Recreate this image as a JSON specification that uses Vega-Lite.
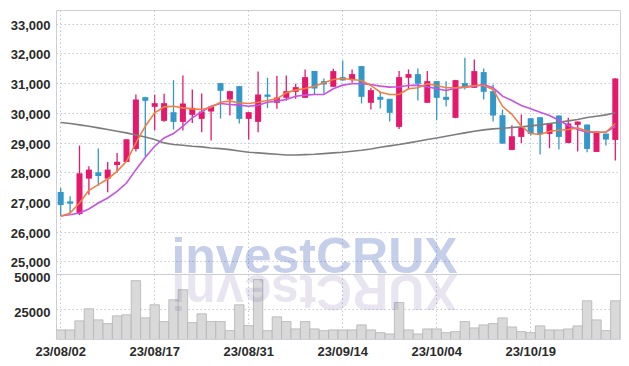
{
  "$schema": "https://vega.github.io/schema/vega-lite/v6.json",
  "padding": {"left": 5, "top": 9, "right": 10, "bottom": 0},
  "background": "white",
  "spacing": 0,
  "bounds": "flush",
  "config": {
    "view": {"stroke": "#cfd0d6", "strokeWidth": 1},
    "axis": {
      "labelFont": "Liberation Sans",
      "labelFontSize": 13,
      "labelFontWeight": "bold",
      "labelColor": "#2a2a2a",
      "gridColor": "#c3c7da",
      "gridDash": [1.5, 2.5],
      "gridWidth": 1,
      "ticks": false,
      "domain": false,
      "title": null,
      "labelOverlap": false
    }
  },
  "datasets": {
    "px": [
      {"d": "23/08/02", "o": 27335, "h": 27470, "l": 26549, "c": 26897, "v": 9827, "m5": 26515, "m20": 26537, "m120": 29673},
      {"d": "23/08/03", "o": 27020, "h": 27189, "l": 26627, "c": 26942, "v": 9827, "m5": 26627, "m20": 26571, "m120": 29640},
      {"d": "23/08/04", "o": 26594, "h": 28898, "l": 26560, "c": 27965, "v": 16330, "m5": 26964, "m20": 26627, "m120": 29595},
      {"d": "23/08/07", "o": 27785, "h": 28201, "l": 27245, "c": 28089, "v": 25000, "m5": 27392, "m20": 26762, "m120": 29550},
      {"d": "23/08/08", "o": 27998, "h": 28797, "l": 27549, "c": 27875, "v": 17050, "m5": 27583, "m20": 26964, "m120": 29494},
      {"d": "23/08/09", "o": 27785, "h": 28347, "l": 27324, "c": 28089, "v": 14380, "m5": 27774, "m20": 27133, "m120": 29437},
      {"d": "23/08/10", "o": 28246, "h": 28651, "l": 27998, "c": 28358, "v": 19940, "m5": 28032, "m20": 27358, "m120": 29381},
      {"d": "23/08/11", "o": 28347, "h": 29111, "l": 28340, "c": 29111, "v": 20665, "m5": 28370, "m20": 27639, "m120": 29325},
      {"d": "23/08/14", "o": 28785, "h": 30617, "l": 28700, "c": 30449, "v": 45230, "m5": 28988, "m20": 28088, "m120": 29257},
      {"d": "23/08/16", "o": 30528, "h": 30540, "l": 28538, "c": 30404, "v": 18500, "m5": 29550, "m20": 28504, "m120": 29190},
      {"d": "23/08/17", "o": 30202, "h": 30606, "l": 29415, "c": 30325, "v": 27890, "m5": 30000, "m20": 28875, "m120": 29100},
      {"d": "23/08/18", "o": 29730, "h": 30640, "l": 29700, "c": 30325, "v": 15820, "m5": 30202, "m20": 29156, "m120": 28988},
      {"d": "23/08/21", "o": 30022, "h": 31101, "l": 29437, "c": 29696, "v": 31500, "m5": 30224, "m20": 29302, "m120": 28932},
      {"d": "23/08/22", "o": 29696, "h": 31258, "l": 29404, "c": 30314, "v": 38730, "m5": 30168, "m20": 29550, "m120": 28910},
      {"d": "23/08/23", "o": 29932, "h": 30786, "l": 29662, "c": 30168, "v": 15100, "m5": 30134, "m20": 29831, "m120": 28875},
      {"d": "23/08/24", "o": 29797, "h": 30651, "l": 29347, "c": 30044, "v": 21390, "m5": 30112, "m20": 30033, "m120": 28853},
      {"d": "23/08/25", "o": 30044, "h": 30230, "l": 29066, "c": 30213, "v": 15820, "m5": 30190, "m20": 30224, "m120": 28819},
      {"d": "23/08/28", "o": 31000, "h": 31000, "l": 29808, "c": 30741, "v": 15820, "m5": 30359, "m20": 30314, "m120": 28797},
      {"d": "23/08/29", "o": 30449, "h": 30740, "l": 29909, "c": 30730, "v": 9320, "m5": 30393, "m20": 30280, "m120": 28763},
      {"d": "23/08/30", "o": 30898, "h": 30900, "l": 29640, "c": 29797, "v": 27890, "m5": 30337, "m20": 30258, "m120": 28718},
      {"d": "23/08/31", "o": 29797, "h": 30030, "l": 29100, "c": 30022, "v": 12930, "m5": 30314, "m20": 30224, "m120": 28673},
      {"d": "23/09/01", "o": 29696, "h": 31393, "l": 29347, "c": 30617, "v": 45950, "m5": 30359, "m20": 30258, "m120": 28651},
      {"d": "23/09/04", "o": 30617, "h": 31179, "l": 30157, "c": 30539, "v": 9320, "m5": 30415, "m20": 30359, "m120": 28628},
      {"d": "23/09/05", "o": 30337, "h": 31247, "l": 30134, "c": 30516, "v": 19220, "m5": 30471, "m20": 30393, "m120": 28606},
      {"d": "23/09/06", "o": 30505, "h": 31258, "l": 30415, "c": 30730, "v": 15820, "m5": 30674, "m20": 30449, "m120": 28583},
      {"d": "23/09/07", "o": 30707, "h": 30977, "l": 30471, "c": 30865, "v": 10550, "m5": 30764, "m20": 30561, "m120": 28583},
      {"d": "23/09/08", "o": 30505, "h": 31460, "l": 30500, "c": 31202, "v": 15820, "m5": 30820, "m20": 30595, "m120": 28594},
      {"d": "23/09/11", "o": 31404, "h": 31404, "l": 30617, "c": 30820, "v": 10550, "m5": 30898, "m20": 30617, "m120": 28606},
      {"d": "23/09/12", "o": 31067, "h": 31157, "l": 30651, "c": 30955, "v": 9320, "m5": 31011, "m20": 30617, "m120": 28628},
      {"d": "23/09/13", "o": 30876, "h": 31483, "l": 30870, "c": 31404, "v": 9827, "m5": 31123, "m20": 30809, "m120": 28651},
      {"d": "23/09/14", "o": 31202, "h": 31764, "l": 31080, "c": 31090, "v": 9827, "m5": 31157, "m20": 30932, "m120": 28673},
      {"d": "23/09/15", "o": 31101, "h": 31460, "l": 31011, "c": 31303, "v": 9827, "m5": 31123, "m20": 30977, "m120": 28707},
      {"d": "23/09/18", "o": 31573, "h": 31573, "l": 30314, "c": 30539, "v": 13420, "m5": 31090, "m20": 30977, "m120": 28740},
      {"d": "23/09/19", "o": 30337, "h": 30842, "l": 30112, "c": 30764, "v": 9827, "m5": 30921, "m20": 30955, "m120": 28785},
      {"d": "23/09/20", "o": 30539, "h": 30730, "l": 30145, "c": 30438, "v": 7876, "m5": 30696, "m20": 30898, "m120": 28842},
      {"d": "23/09/21", "o": 30471, "h": 30471, "l": 29707, "c": 29999, "v": 6916, "m5": 30617, "m20": 30865, "m120": 28887},
      {"d": "23/09/22", "o": 29527, "h": 31404, "l": 29460, "c": 31202, "v": 29550, "m5": 30617, "m20": 30876, "m120": 28932},
      {"d": "23/09/25", "o": 31180, "h": 31460, "l": 30786, "c": 31303, "v": 9827, "m5": 30809, "m20": 30921, "m120": 28988},
      {"d": "23/09/26", "o": 31303, "h": 31494, "l": 30415, "c": 30977, "v": 6916, "m5": 30842, "m20": 30932, "m120": 29044},
      {"d": "23/09/27", "o": 30337, "h": 31404, "l": 30330, "c": 31067, "v": 10530, "m5": 30977, "m20": 30876, "m120": 29100},
      {"d": "23/10/04", "o": 31067, "h": 31070, "l": 29752, "c": 30505, "v": 10530, "m5": 30921, "m20": 30809, "m120": 29156},
      {"d": "23/10/05", "o": 30539, "h": 31067, "l": 30213, "c": 30438, "v": 7876, "m5": 30842, "m20": 30753, "m120": 29213},
      {"d": "23/10/06", "o": 29831, "h": 31110, "l": 29820, "c": 31101, "v": 8600, "m5": 30842, "m20": 30831, "m120": 29269},
      {"d": "23/10/10", "o": 31000, "h": 31854, "l": 30786, "c": 30842, "v": 15820, "m5": 30865, "m20": 30865, "m120": 29325},
      {"d": "23/10/11", "o": 30842, "h": 31798, "l": 30840, "c": 31404, "v": 11250, "m5": 30921, "m20": 30898, "m120": 29381},
      {"d": "23/10/12", "o": 31371, "h": 31494, "l": 30449, "c": 30707, "v": 13420, "m5": 30921, "m20": 30955, "m120": 29426},
      {"d": "23/10/13", "o": 30730, "h": 30955, "l": 29707, "c": 29909, "v": 14380, "m5": 30786, "m20": 30842, "m120": 29460},
      {"d": "23/10/16", "o": 29921, "h": 30112, "l": 28960, "c": 28965, "v": 18475, "m5": 30220, "m20": 30561, "m120": 29482},
      {"d": "23/10/17", "o": 28752, "h": 29583, "l": 28740, "c": 29213, "v": 11970, "m5": 29950, "m20": 30415, "m120": 29505},
      {"d": "23/10/18", "o": 29190, "h": 29943, "l": 28988, "c": 29516, "v": 8600, "m5": 29550, "m20": 30247, "m120": 29527},
      {"d": "23/10/19", "o": 29819, "h": 29819, "l": 29235, "c": 29291, "v": 7876, "m5": 29302, "m20": 30134, "m120": 29561},
      {"d": "23/10/20", "o": 29853, "h": 29853, "l": 28594, "c": 29280, "v": 12700, "m5": 29269, "m20": 30022, "m120": 29595},
      {"d": "23/10/23", "o": 29291, "h": 29640, "l": 28808, "c": 29640, "v": 9827, "m5": 29381, "m20": 29909, "m120": 29640},
      {"d": "23/10/24", "o": 29909, "h": 29909, "l": 28763, "c": 29190, "v": 9827, "m5": 29415, "m20": 29752, "m120": 29685},
      {"d": "23/10/25", "o": 28988, "h": 29831, "l": 28980, "c": 29640, "v": 10530, "m5": 29437, "m20": 29572, "m120": 29730},
      {"d": "23/10/26", "o": 29595, "h": 29707, "l": 28696, "c": 29707, "v": 12700, "m5": 29494, "m20": 29437, "m120": 29775},
      {"d": "23/10/27", "o": 29606, "h": 29606, "l": 28673, "c": 28785, "v": 30780, "m5": 29381, "m20": 29347, "m120": 29842},
      {"d": "23/10/30", "o": 28684, "h": 29370, "l": 28680, "c": 29370, "v": 17030, "m5": 29347, "m20": 29347, "m120": 29887},
      {"d": "23/10/31", "o": 29302, "h": 29302, "l": 28898, "c": 29100, "v": 9322, "m5": 29347, "m20": 29347, "m120": 29932},
      {"d": "23/11/01", "o": 29089, "h": 31160, "l": 28392, "c": 31157, "v": 30780, "m5": 29640, "m20": 29550, "m120": 30000}
    ]
  },
  "vconcat": [
    {
      "width": 564,
      "height": 264,
      "data": {"name": "px"},
      "encoding": {
        "x": {
          "field": "d",
          "type": "ordinal",
          "scale": {"paddingInner": 0, "paddingOuter": 0},
          "axis": {
            "values": ["23/08/02", "23/08/17", "23/08/31", "23/09/14", "23/10/04", "23/10/19"],
            "labels": false,
            "grid": true,
            "bandPosition": 0.5,
            "minExtent": 0,
            "maxExtent": 0
          }
        }
      },
      "layer": [
        {
          "mark": {"type": "rule", "strokeWidth": 1.3},
          "encoding": {
            "y": {
              "field": "l",
              "type": "quantitative",
              "scale": {"domain": [24576, 33461], "nice": false, "zero": false},
              "axis": {"values": [25000, 26000, 27000, 28000, 29000, 30000, 31000, 32000, 33000], "format": ",d", "grid": true, "labelOverlap": false, "labelOffset": 1.5, "labelPadding": 6, "minExtent": 50, "maxExtent": 50}
            },
            "y2": {"field": "h"},
            "color": {"condition": {"test": "datum.c >= datum.o", "value": "#e5196b"}, "value": "#3398c9"}
          }
        },
        {
          "mark": {"type": "bar", "width": {"band": 0.64}},
          "encoding": {
            "y": {
              "field": "o",
              "type": "quantitative",
              "axis": {"values": [25000, 26000, 27000, 28000, 29000, 30000, 31000, 32000, 33000], "format": ",d", "grid": true, "labelOverlap": false, "labelOffset": 1.5, "labelPadding": 6, "minExtent": 50, "maxExtent": 50}
            },
            "y2": {"field": "c"},
            "color": {"condition": {"test": "datum.c >= datum.o", "value": "#e5196b"}, "value": "#3398c9"}
          }
        },
        {
          "mark": {"type": "line", "color": "#7c7c7c", "strokeWidth": 1.6},
          "encoding": {
            "y": {
              "field": "m120",
              "type": "quantitative",
              "axis": {"values": [25000, 26000, 27000, 28000, 29000, 30000, 31000, 32000, 33000], "format": ",d", "grid": true, "labelOverlap": false, "labelOffset": 1.5, "labelPadding": 6, "minExtent": 50, "maxExtent": 50}
            }
          }
        },
        {
          "mark": {"type": "line", "color": "#c652e6", "strokeWidth": 1.6},
          "encoding": {
            "y": {
              "field": "m20",
              "type": "quantitative",
              "axis": {"values": [25000, 26000, 27000, 28000, 29000, 30000, 31000, 32000, 33000], "format": ",d", "grid": true, "labelOverlap": false, "labelOffset": 1.5, "labelPadding": 6, "minExtent": 50, "maxExtent": 50}
            }
          }
        },
        {
          "mark": {"type": "line", "color": "#ef8040", "strokeWidth": 1.6},
          "encoding": {
            "y": {
              "field": "m5",
              "type": "quantitative",
              "axis": {"values": [25000, 26000, 27000, 28000, 29000, 30000, 31000, 32000, 33000], "format": ",d", "grid": true, "labelOverlap": false, "labelOffset": 1.5, "labelPadding": 6, "minExtent": 50, "maxExtent": 50}
            }
          }
        },
        {
          "data": {"values": [{"w": "investCRUX"}]},
          "mark": {"type": "text", "font": "Liberation Sans", "fontWeight": "bold", "fontSize": 50, "align": "center", "baseline": "alphabetic", "color": "#3050b0", "opacity": 0.27},
          "encoding": {
            "x": {"datum": "23/09/11", "type": "ordinal"},
            "y": {
              "datum": 24620,
              "type": "quantitative",
              "axis": {"values": [25000, 26000, 27000, 28000, 29000, 30000, 31000, 32000, 33000], "format": ",d", "grid": true, "labelOverlap": false, "labelOffset": 1.5, "labelPadding": 6, "minExtent": 50, "maxExtent": 50}
            },
            "text": {"field": "w"}
          }
        }
      ]
    },
    {
      "width": 564,
      "height": 65,
      "data": {"name": "px"},
      "encoding": {
        "x": {
          "field": "d",
          "type": "ordinal",
          "scale": {"paddingInner": 0, "paddingOuter": 0},
          "axis": {
            "values": ["23/08/02", "23/08/17", "23/08/31", "23/09/14", "23/10/04", "23/10/19"],
            "grid": true,
            "bandPosition": 0.5,
            "labelAngle": 0,
            "labelPadding": 6
          }
        }
      },
      "layer": [
        {
          "mark": {"type": "bar", "fill": "#d9d9d9", "stroke": "#b4b4b4", "strokeWidth": 0.8, "width": {"band": 1}, "clip": true},
          "encoding": {
            "y": {
              "field": "v",
              "type": "quantitative",
              "scale": {"domain": [3300, 50000], "nice": false, "zero": false},
              "axis": {"values": [25000, 50000], "format": "d", "grid": true, "labelOverlap": false, "labelOffset": 3.5, "labelPadding": 6, "minExtent": 50, "maxExtent": 50}
            }
          }
        },
        {
          "data": {"values": [{"w": "XURCtsevni"}]},
          "mark": {"type": "text", "font": "Liberation Sans", "fontWeight": "bold", "fontSize": 50, "align": "center", "baseline": "alphabetic", "angle": 180, "color": "#6050a0", "opacity": 0.14},
          "encoding": {
            "x": {"datum": "23/09/11", "type": "ordinal"},
            "y": {
              "datum": 49000,
              "type": "quantitative",
              "axis": {"values": [25000, 50000], "format": "d", "grid": true, "labelOverlap": false, "labelOffset": 3.5, "labelPadding": 6, "minExtent": 50, "maxExtent": 50}
            },
            "text": {"field": "w"}
          }
        }
      ]
    }
  ]
}
